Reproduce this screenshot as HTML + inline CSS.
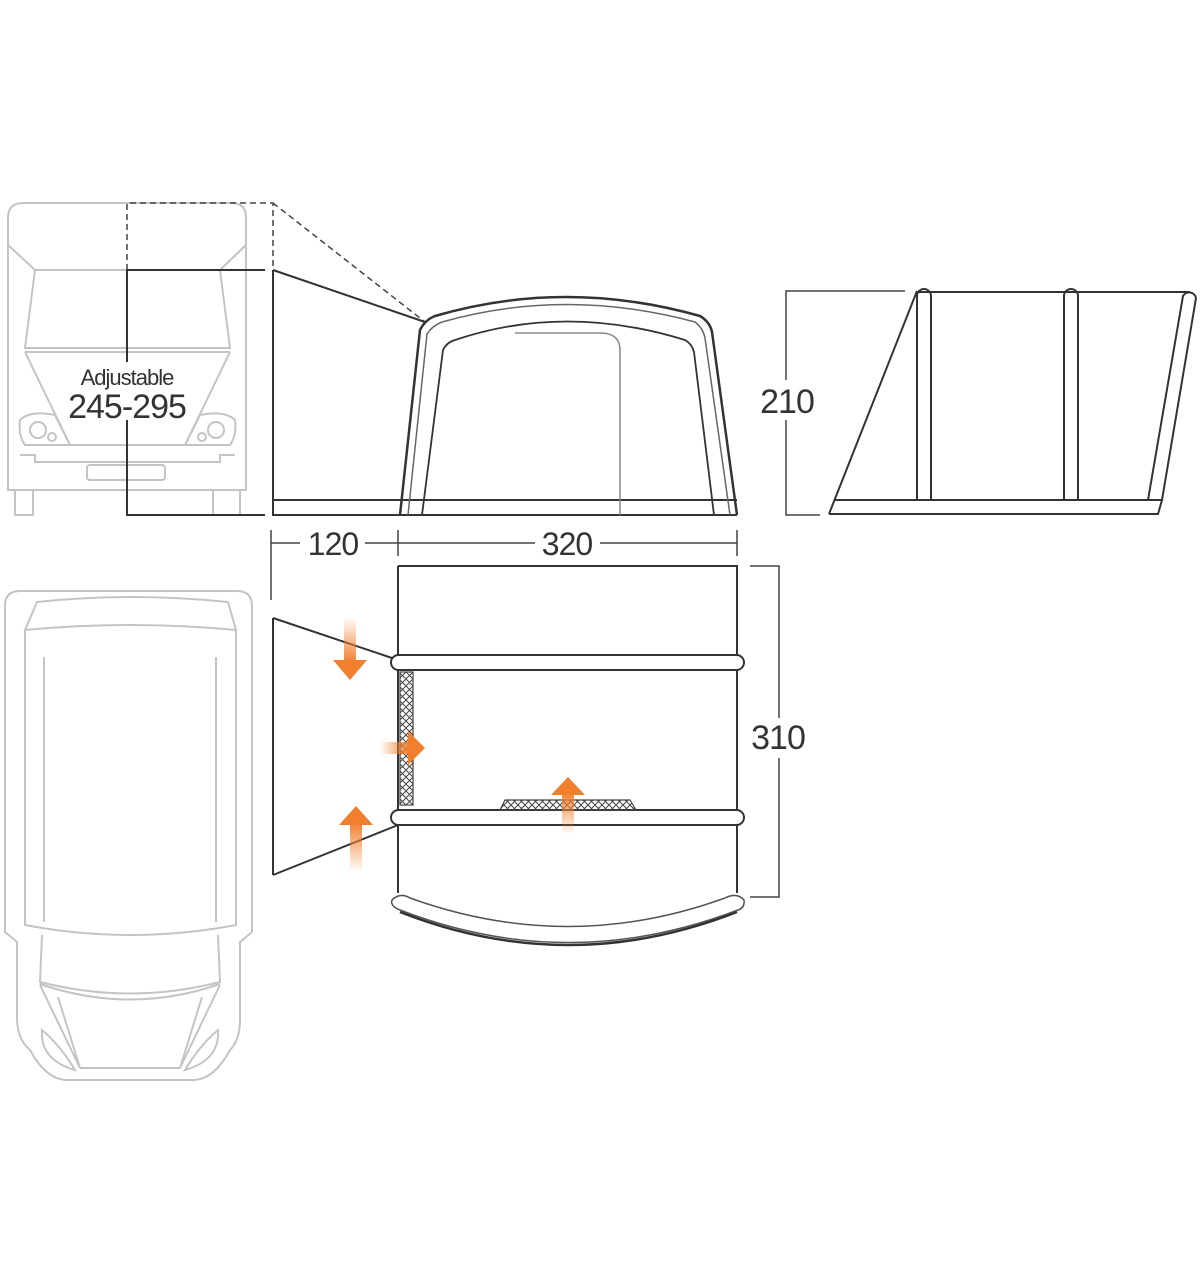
<!DOCTYPE html>
<html><head><meta charset="utf-8"><style>html,body{margin:0;padding:0;background:#fff}svg{display:block}</style></head>
<body>
<svg width="1201" height="1280" viewBox="0 0 1201 1280" xmlns="http://www.w3.org/2000/svg">
<defs>
<linearGradient id="gd" x1="0" y1="0" x2="0" y2="1"><stop offset="0" stop-color="#f07f2e" stop-opacity="0"/><stop offset="1" stop-color="#f07f2e"/></linearGradient>
<linearGradient id="gu" x1="0" y1="1" x2="0" y2="0"><stop offset="0" stop-color="#f07f2e" stop-opacity="0"/><stop offset="1" stop-color="#f07f2e"/></linearGradient>
<linearGradient id="gr" x1="0" y1="0" x2="1" y2="0"><stop offset="0" stop-color="#f07f2e" stop-opacity="0"/><stop offset="1" stop-color="#f07f2e"/></linearGradient>
<pattern id="mesh" width="7" height="7" patternUnits="userSpaceOnUse"><path d="M0 0L7 7M7 0L0 7" stroke="#444" stroke-width="1"/></pattern>
</defs>
<g fill="none" stroke="#c4c4c4" stroke-width="2">
 <!-- front van -->
 <path d="M8 490 V218 Q8 203 23 203 H232 Q246 203 246 218 V490 Z"/>
 <path d="M15 490 V515 H33 V490 M213 490 V515 H240 V490"/>
 <path d="M8 245 L35 270 H220 L246 245"/>
 <path d="M35 270 L25 348 H230 L220 270"/>
 <path d="M25 352 H230"/>
 <path d="M25 352 L70 445 H185 L230 352"/>
 <path d="M20 420 Q30 410 55 415 L70 445 H25 Q18 435 20 420 Z"/>
 <path d="M235 420 Q225 410 200 415 L185 445 H230 Q237 435 235 420 Z"/>
 <circle cx="38" cy="430" r="8"/><circle cx="52" cy="437" r="4"/>
 <circle cx="216" cy="430" r="8"/><circle cx="202" cy="437" r="4"/>
 <path d="M20 455 H35 V462 H220 V455 H235"/>
 <rect x="87" y="465" width="78" height="15" rx="3"/>
 <!-- top van -->
 <path d="M5 932 V606 Q5 591 20 591 H237 Q252 591 252 606 V932 L240 942 V1020 Q240 1040 230 1050 Q215 1078 195 1080 H65 Q45 1078 30 1050 Q18 1040 17 1020 V942 Z"/>
 <path d="M37 602 Q130 592 228 602 L236 630 Q130 620 25 630 Z"/>
 <path d="M25 630 V925 Q130 945 236 925 V630"/>
 <path d="M44 657 V922 M216 657 V922"/>
 <path d="M42 935 L40 982 Q130 1005 220 982 L218 935"/>
 <path d="M40 984 Q130 1015 220 984"/>
 <path d="M40 985 L80 1068 M220 985 L180 1068 M58 997 L80 1068 M202 997 L180 1068"/>
 <path d="M80 1068 H180"/>
 <path d="M42 1030 Q60 1045 75 1070 Q40 1060 42 1030 Z"/>
 <path d="M218 1030 Q200 1045 185 1070 Q220 1060 218 1030 Z"/>
</g>
<!-- dashed -->
<g fill="none" stroke="#444" stroke-width="1.5" stroke-dasharray="6,4">
 <path d="M127 270 V203 H273 V270"/>
 <path d="M273 203 L425 322"/>
</g>
<g fill="none" stroke="#333" stroke-width="2">
 <path d="M127 362 V270 H265"/>
 <path d="M127 420 V515 H265"/>
 <path d="M273 270 V515 H737"/>
 <path d="M273 270 L425 322"/>
 <path d="M273 500 H737"/>
 <path d="M400 515 L420 330 Q425 320 435 316 Q565 278 700 316 Q710 322 712 332 L737 515" stroke-width="2.5"/>
 <path d="M408 515 L427 334 Q432 326 442 322 Q565 287 695 322 Q703 328 705 338 L730 515" stroke="#666" stroke-width="1.5"/>
 <path d="M422 515 L443 350 Q447 342 455 340 Q565 303 685 340 Q692 344 694 352 L714 515" stroke-width="1.8"/>
 <path d="M515 333 H600 Q620 333 620 350 V515" stroke="#888" stroke-width="1.5"/>
 <path d="M271 530 V600 M271 543 H300 M365 543 H398 M398 530 V556 M398 543 H535 M600 543 H737 M737 530 V556" stroke="#444" stroke-width="1.5"/>
 <path d="M905 291 H786 V515 H820" stroke="#444" stroke-width="1.5"/>
 <path d="M750 566 H779 V897 H750" stroke="#444" stroke-width="1.5"/>
 <path d="M829 514 L917 291 M917 292 H1190"/>
 <path d="M829 514 H1158 L1162 500 H834"/>
 <path d="M917 500 V296 A7 7 0 0 1 931 296 V500" />
 <path d="M1064 500 V296 A7 7 0 0 1 1078 296 V500"/>
 <path d="M1148 500 L1183 296 A7 7 0 0 1 1196 298 L1162 500"/>
 <path d="M398 566 H737 V893 M398 566 V893" />
 <path d="M273 618 L398 660 M273 875 L398 825 M273 618 V875"/>
</g>
<g stroke="#333" stroke-width="2" fill="#fff">
 <rect x="391" y="655" width="353" height="15" rx="7.5"/>
 <rect x="391" y="810" width="353" height="15" rx="7.5"/>
</g>
<rect x="400" y="672" width="13" height="133" fill="url(#mesh)" stroke="#444" stroke-width="1.2"/>
<path d="M500 810 L505 800 H630 L636 810 Z" fill="url(#mesh)" stroke="#444" stroke-width="1.2"/>
<path d="M392 900 Q400 892 410 898 Q568 955 725 898 Q737 892 744 900 Q745 908 738 910 Q568 975 400 910 Q390 906 392 900 Z" fill="#fff" stroke="#555" stroke-width="1.5"/>
<path d="M400 912 Q568 978 737 912" fill="none" stroke="#333" stroke-width="2.5"/>
<rect x="344" y="617" width="12" height="46" fill="url(#gd)"/><path d="M333 660 H367 L350 680 Z" fill="#f07f2e"/>
<rect x="380" y="742" width="30" height="12" fill="url(#gr)"/><path d="M408 731 V765 L425 748 Z" fill="#f07f2e"/>
<rect x="350" y="822" width="12" height="50" fill="url(#gu)"/><path d="M339 825 H373 L356 806 Z" fill="#f07f2e"/>
<rect x="562" y="792" width="12" height="42" fill="url(#gu)"/><path d="M551 795 H585 L568 777 Z" fill="#f07f2e"/>
<g font-family="Liberation Sans, sans-serif" fill="#333" text-anchor="middle" letter-spacing="-1">
 <text x="127" y="385" font-size="22">Adjustable</text>
 <text x="127" y="418" font-size="34">245-295</text>
 <text x="333" y="555" font-size="32">120</text>
 <text x="567" y="555" font-size="32">320</text>
 <rect x="760" y="380" width="55" height="40" fill="#fff"/>
 <text x="787" y="413" font-size="34">210</text>
 <rect x="752" y="718" width="55" height="40" fill="#fff"/>
 <text x="778" y="749" font-size="34">310</text>
</g>
</svg>
</body></html>
